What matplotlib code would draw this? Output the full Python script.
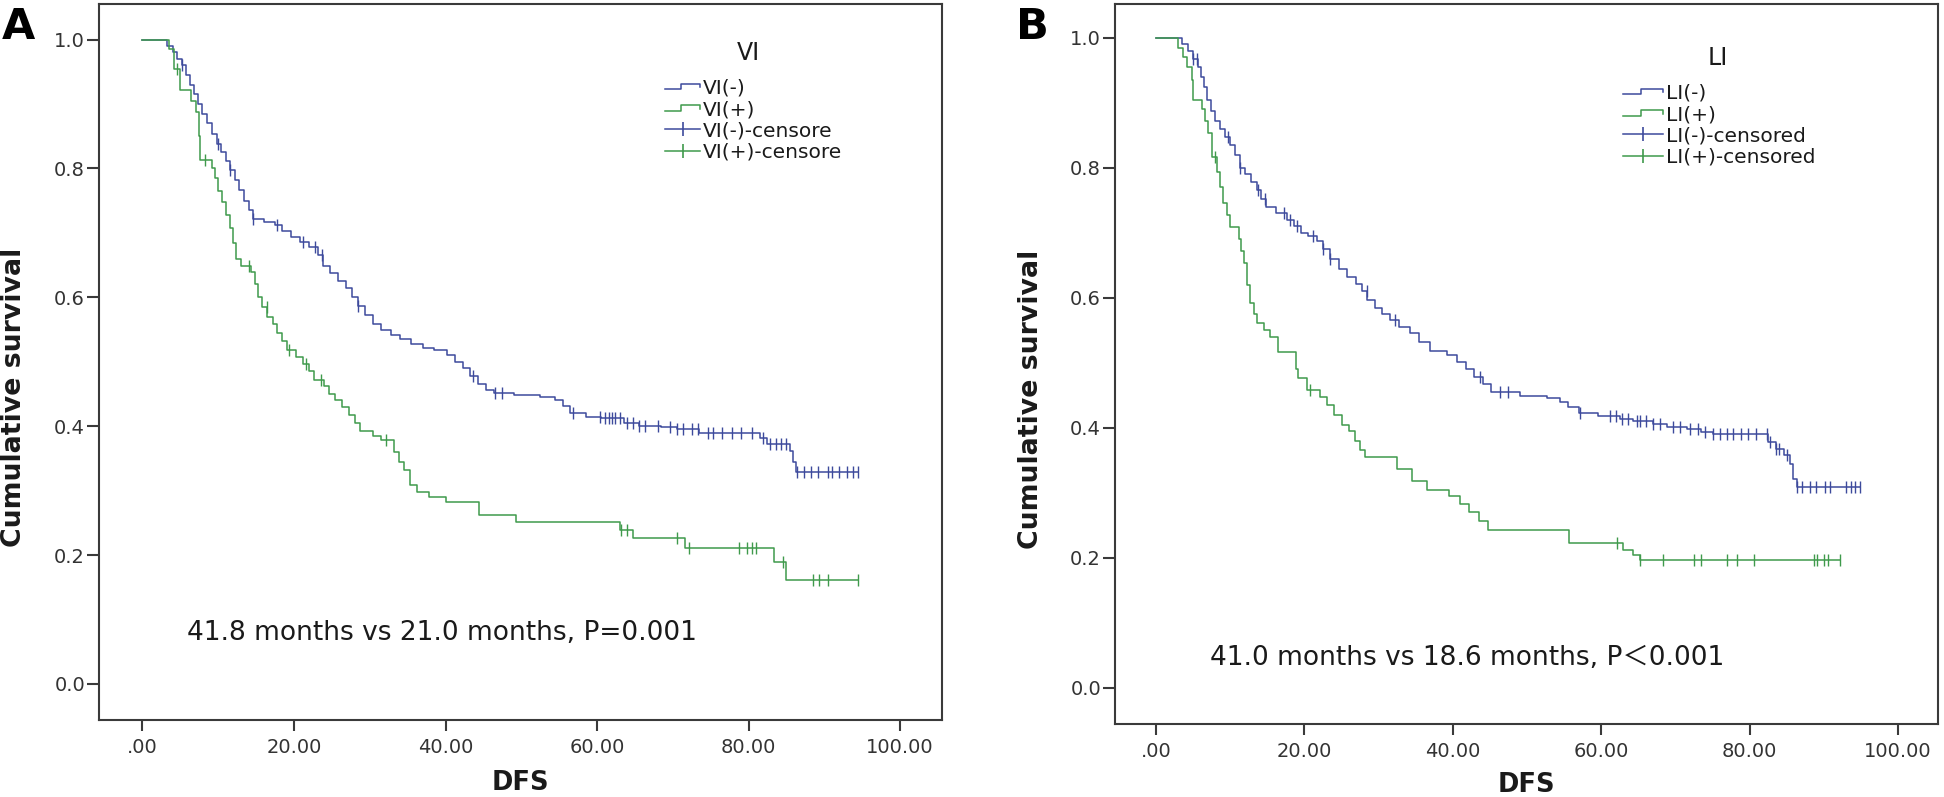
import numpy as np
import matplotlib
matplotlib.use("Agg")
import matplotlib.pyplot as plt
from matplotlib.lines import Line2D
from matplotlib.legend_handler import HandlerBase

# ---------------- data ----------------
# Panel A: vascular invasion (VI)
vi_neg_t = [0, 3.2, 4.0, 4.6, 5.2, 5.8, 6.3, 6.8, 7.3, 7.9, 8.5, 9.2, 9.8, 10.4, 11.0, 11.6, 12.2, 12.8,
            13.4, 14.0, 14.6, 16.0, 17.5, 18.4, 19.6, 20.8, 22.0, 23.2, 23.8, 24.8, 25.8, 26.8, 27.7,
            28.5, 29.4, 30.4, 31.5, 32.8, 34.0, 35.5, 37.0, 38.5, 40.2, 41.3, 42.3, 43.2, 44.3, 45.4,
            46.4, 49.0, 52.5, 54.5, 55.5, 56.5, 58.5, 60.5, 63.5, 65.5, 68.5, 70.5, 73.5, 81.5, 82.5,
            85.5, 85.9, 86.3]
vi_neg_s = [1.0, 0.99, 0.98, 0.97, 0.96, 0.945, 0.93, 0.915, 0.90, 0.885, 0.87, 0.853, 0.838, 0.826,
            0.812, 0.797, 0.782, 0.766, 0.750, 0.735, 0.722, 0.717, 0.712, 0.703, 0.694, 0.686, 0.678,
            0.665, 0.648, 0.638, 0.626, 0.614, 0.600, 0.587, 0.572, 0.558, 0.550, 0.542, 0.536, 0.528,
            0.522, 0.518, 0.510, 0.500, 0.490, 0.478, 0.466, 0.456, 0.451, 0.448, 0.445, 0.440, 0.432,
            0.420, 0.415, 0.412, 0.405, 0.401, 0.398, 0.395, 0.390, 0.381, 0.373, 0.362, 0.345, 0.329]
vi_neg_c = [5.2, 10.0, 11.6, 14.6, 17.7, 21.2, 22.8, 23.7, 28.5, 43.6, 46.5, 47.4, 56.8, 60.4, 61.0,
            61.6, 62.0, 62.4, 63.0, 64.0, 64.8, 65.5, 66.3, 68.0, 69.6, 70.5, 71.3, 72.5, 73.3, 74.6,
            75.3, 76.5, 77.8, 79.0, 80.5, 81.9, 82.8, 83.6, 84.3, 85.0, 86.4, 87.3, 88.2, 89.2, 90.5,
            91.0, 92.0, 93.0, 93.8, 94.5]

vi_pos_t = [0, 3.5, 4.2, 5.0, 6.4, 7.0, 7.4, 7.6, 9.2, 9.6, 10.0, 10.5, 11.0, 11.5, 12.0, 12.4, 13.0,
            14.3, 14.8, 15.2, 15.8, 16.5, 17.2, 17.8, 18.4, 19.1, 20.2, 21.2, 22.0, 22.6, 23.9, 24.6,
            25.4, 26.4, 27.2, 28.0, 28.7, 30.4, 31.5, 33.2, 33.8, 34.5, 35.3, 36.2, 37.8, 40.0, 44.4,
            49.3, 63.0, 64.7, 71.6, 83.4, 85.0]
vi_pos_s = [1.0, 0.985, 0.955, 0.922, 0.905, 0.888, 0.85, 0.813, 0.80, 0.785, 0.765, 0.748, 0.728,
            0.708, 0.685, 0.66, 0.648, 0.64, 0.62, 0.60, 0.585, 0.570, 0.558, 0.545, 0.532, 0.518,
            0.508, 0.497, 0.485, 0.472, 0.463, 0.45, 0.44, 0.43, 0.418, 0.405, 0.392, 0.385, 0.378,
            0.36, 0.345, 0.332, 0.308, 0.298, 0.29, 0.282, 0.262, 0.251, 0.239, 0.226, 0.211, 0.19, 0.161]
vi_pos_c = [4.6, 8.3, 14.0, 16.4, 19.4, 21.6, 23.6, 32.2, 63.2, 63.9, 70.5, 72.2, 78.8, 79.8, 80.4,
            81.0, 84.6, 88.5, 89.3, 90.5, 94.5]

# Panel B: lymphatic invasion (LI)
li_neg_t = [0, 3.5, 4.3, 5.0, 5.6, 6.0, 6.4, 6.9, 7.4, 7.9, 8.6, 9.3, 10.0, 10.7, 11.3, 12.0, 12.8,
            13.6, 14.2, 14.8, 16.2, 17.7, 18.6, 19.5, 20.5, 21.7, 22.5, 23.5, 24.6, 25.8, 27.0, 27.8,
            28.5, 29.5, 30.5, 31.5, 32.8, 34.2, 35.5, 36.9, 39.2, 40.5, 41.8, 42.8, 44.0, 45.2, 49.0,
            52.7, 54.5, 55.5, 57.0, 59.5, 62.5, 64.3, 67.0, 68.9, 71.5, 73.5, 75.0, 82.5, 83.6, 84.6,
            85.4, 85.9, 86.4]
li_neg_s = [1.0, 0.99, 0.98, 0.968, 0.955, 0.94, 0.925, 0.905, 0.888, 0.872, 0.86, 0.848, 0.836,
            0.82, 0.80, 0.79, 0.778, 0.766, 0.752, 0.74, 0.73, 0.72, 0.71, 0.70, 0.695, 0.688, 0.675,
            0.66, 0.645, 0.632, 0.622, 0.61, 0.597, 0.585, 0.575, 0.566, 0.556, 0.546, 0.532, 0.518,
            0.512, 0.502, 0.49, 0.478, 0.468, 0.456, 0.449, 0.446, 0.44, 0.432, 0.423, 0.418, 0.414,
            0.41, 0.406, 0.402, 0.398, 0.394, 0.391, 0.378, 0.368, 0.358, 0.345, 0.322, 0.309]
li_neg_c = [5.0, 5.5, 9.7, 11.3, 13.8, 14.7, 17.2, 18.1, 19.0, 21.2, 22.5, 23.5, 28.4, 32.2, 43.7,
            46.4, 47.4, 57.1, 61.2, 62.0, 62.8, 63.6, 64.8, 65.2, 66.0, 67.0, 67.9, 69.7, 70.6, 72.0,
            73.0, 74.0, 75.1, 76.0, 76.9, 77.8, 78.8, 79.8, 80.8, 82.3, 82.8, 83.6, 84.0, 85.0, 86.4,
            87.0, 88.2, 88.9, 90.2, 90.8, 93.0, 93.6, 94.2, 94.9]

li_pos_t = [0, 3.0, 3.6, 4.2, 4.8, 5.0, 6.2, 6.6, 7.0, 7.5, 8.2, 8.6, 9.0, 9.5, 10.0, 11.2, 11.5,
            11.8, 12.2, 12.7, 13.2, 13.6, 14.5, 15.4, 16.4, 18.8, 19.2, 20.3, 22.1, 23.0, 24.0, 25.0,
            26.0, 26.8, 27.5, 28.2, 32.5, 34.5, 36.5, 39.5, 41.0, 42.2, 43.5, 44.8, 55.7, 63.0, 64.3,
            65.2]
li_pos_s = [1.0, 0.985, 0.97, 0.955, 0.935, 0.905, 0.89, 0.872, 0.854, 0.817, 0.794, 0.77, 0.746,
            0.727, 0.709, 0.69, 0.672, 0.654, 0.62, 0.592, 0.575, 0.562, 0.55, 0.54, 0.517, 0.49,
            0.477, 0.458, 0.448, 0.435, 0.42, 0.405, 0.395, 0.38, 0.366, 0.356, 0.337, 0.318, 0.305,
            0.296, 0.283, 0.27, 0.257, 0.243, 0.223, 0.212, 0.205, 0.197]
li_pos_c = [7.9, 20.8, 62.1, 65.2, 68.3, 72.5, 73.4, 77.0, 78.3, 80.6, 88.7, 89.1, 90.0, 90.6, 92.2]

x_ticks = [0, 20, 40, 60, 80, 100]
x_tick_labels = [".00", "20.00", "40.00", "60.00", "80.00", "100.00"]
y_ticks = [0.0, 0.2, 0.4, 0.6, 0.8, 1.0]
y_tick_labels = ["0.0", "0.2", "0.4", "0.6", "0.8", "1.0"]

legend_A = ["VI(-)", "VI(+)", "VI(-)-censore", "VI(+)-censore"]
legend_B = ["LI(-)", "LI(+)", "LI(-)-censored", "LI(+)-censored"]
annot_A = "41.8 months vs 21.0 months, P=0.001"
annot_B = "41.0 months vs 18.6 months, P\uff1c0.001"

# ---------------- style ----------------
BLUE = "#3d4a9c"
GREEN = "#3f9a4c"
FRAME = "#3a3a3a"
plt.rcParams["font.family"] = ["DejaVu Sans", "Noto Sans CJK SC"]


class StepHandler(HandlerBase):
    def create_artists(self, legend, orig_handle, xdescent, ydescent, width, height, fontsize, trans):
        x0, y0 = -xdescent, -ydescent
        xs = [x0, x0 + 0.45 * width, x0 + 0.45 * width, x0 + width, x0 + width]
        ys = [y0 + 0.3 * height, y0 + 0.3 * height, y0 + 0.72 * height, y0 + 0.72 * height, y0 + 0.45 * height]
        ln = Line2D(xs, ys, color=orig_handle.get_color(), lw=orig_handle.get_linewidth())
        ln.set_transform(trans)
        return [ln]


def km(ax, t, s, c, color):
    t = np.asarray(t, float)
    s = np.asarray(s, float)
    c = np.asarray(c, float)
    t_end = max(t.max(), c.max())
    tt = np.append(t, t_end)
    ss = np.append(s, s[-1])
    ax.step(tt, ss, where="post", color=color, lw=1.1, zorder=3)
    idx = np.searchsorted(t, c, side="right") - 1
    ax.plot(c, s[idx], ls="none", marker="|", ms=8, mew=1.0, color=color, zorder=4)


def panel(fig, rect, xlim, ylim, neg, pos, labels, title, title_xy, leg_xy, annot, annot_xy,
          letter, letter_xy, ylab_xy, xlab_xy, handlelen):
    ax = fig.add_axes(rect)
    km(ax, *neg, BLUE)
    km(ax, *pos, GREEN)
    ax.set_xlim(*xlim)
    ax.set_ylim(*ylim)
    ax.set_xticks(x_ticks)
    ax.set_xticklabels(x_tick_labels)
    ax.set_yticks(y_ticks)
    ax.set_yticklabels(y_tick_labels)
    for sp in ax.spines.values():
        sp.set_color(FRAME)
        sp.set_linewidth(1.5)
    ax.tick_params(axis="y", direction="out", length=9, width=1.5, color=FRAME,
                   labelsize=14, labelcolor="#333333", pad=1)
    ax.tick_params(axis="x", direction="out", length=8, width=1.5, color=FRAME,
                   labelsize=14, labelcolor="#333333", pad=5)
    ax.set_xlabel("DFS", fontsize=18.5, fontweight="bold", color="#1a1a1a", va="top")
    ax.xaxis.set_label_coords(*xlab_xy)
    ax.set_ylabel("Cumulative survival", fontsize=19.3, fontweight="bold", color="#1a1a1a")
    ax.yaxis.set_label_coords(*ylab_xy)

    handles = [Line2D([], [], color=BLUE, lw=1.1), Line2D([], [], color=GREEN, lw=1.1),
               Line2D([], [], color=BLUE, lw=1.1, marker="|", ms=10, mew=1.2),
               Line2D([], [], color=GREEN, lw=1.1, marker="|", ms=10, mew=1.2)]
    hmap = {handles[0]: StepHandler(), handles[1]: StepHandler()}
    ax.legend(handles, labels, loc="upper left", bbox_to_anchor=leg_xy, frameon=False,
              fontsize=14.5, handlelength=handlelen, handletextpad=0.15, labelspacing=0.12,
              borderpad=0, borderaxespad=0, numpoints=1, handler_map=hmap, labelcolor="#1a1a1a")
    ax.text(*title_xy, title, transform=ax.transAxes, ha="center", va="center", fontsize=17,
            color="#1a1a1a")
    ax.text(*annot_xy, annot, transform=ax.transAxes, ha="left", va="center", fontsize=19,
            color="#1a1a1a")
    fig.text(*letter_xy, letter, ha="left", va="center", fontsize=31, fontweight="bold", color="black")
    return ax


W, H = 1944, 797
fig = plt.figure(figsize=(W / 100, H / 100), dpi=100)

panel(fig, [99 / W, 1 - 720 / H, 843 / W, 716 / H], (-5.74, 105.54), (-0.0559, 1.0551),
      (vi_neg_t, vi_neg_s, vi_neg_c), (vi_pos_t, vi_pos_s, vi_pos_c), legend_A, "VI",
      (0.770, 0.9316), (0.6714, 0.8957), annot_A, (0.104, 0.1215), "A", (2 / W, 1 - 27 / H),
      (-0.0854, 0.451), (0.5, -0.0698), 1.75)

panel(fig, [1115 / W, 1 - 724 / H, 823 / W, 720 / H], (-5.53, 105.39), (-0.0554, 1.0523),
      (li_neg_t, li_neg_s, li_neg_c), (li_pos_t, li_pos_s, li_pos_c), legend_B, "LI",
      (0.733, 0.925), (0.617, 0.8893), annot_B, (0.116, 0.0917), "B", (1016 / W, 1 - 27 / H),
      (-0.0857, 0.451), (0.5, -0.0667), 2.0)

fig.savefig("out.png", dpi=100)
